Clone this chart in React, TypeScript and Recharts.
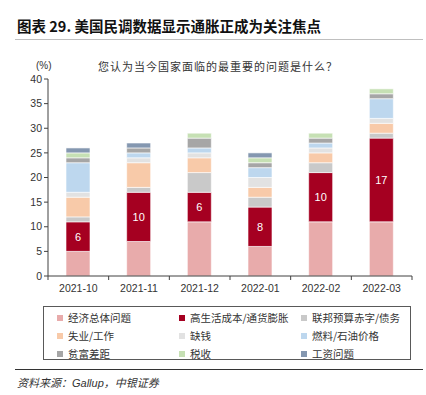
import { Bar, BarChart, LabelList, XAxis, YAxis } from "recharts";

const MONTHS = ["2021-10", "2021-11", "2021-12", "2022-01", "2022-02", "2022-03"];

const ECONOMY = [5, 7, 11, 6, 11, 11];
const COST_OF_LIVING = [6, 10, 6, 8, 10, 17];
const DEFICIT = [1, 1, 4, 2, 2, 1];
const JOBS = [4, 5, 3, 2, 2, 2];
const NO_MONEY = [1, 1, 1, 2, 1, 1];
const FUEL = [6, 1, 1, 2, 1, 4];
const INEQUALITY = [1, 1, 2, 1, 1, 1];
const TAXES = [1, 0, 1, 1, 1, 1];
const WAGES = [1, 1, 0, 1, 0, 0];

const SERIES = [
  { key: "economy", name: "经济总体问题", color: "#e8abab", values: ECONOMY },
  { key: "cost", name: "高生活成本/通货膨胀", color: "#a50021", values: COST_OF_LIVING },
  { key: "deficit", name: "联邦预算赤字/债务", color: "#c9c9c9", values: DEFICIT },
  { key: "jobs", name: "失业/工作", color: "#f8caa9", values: JOBS },
  { key: "money", name: "缺钱", color: "#e2e2e2", values: NO_MONEY },
  { key: "fuel", name: "燃料/石油价格", color: "#bdd7ee", values: FUEL },
  { key: "gap", name: "贫富差距", color: "#a6a6a6", values: INEQUALITY },
  { key: "tax", name: "税收", color: "#c6e0b4", values: TAXES },
  { key: "wage", name: "工资问题", color: "#8497b0", values: WAGES }
];

const Y_TICKS = [0, 5, 10, 15, 20, 25, 30, 35, 40];

const data = MONTHS.map((m, i) => {
  const row: Record<string, string | number> = { month: m };
  SERIES.forEach((s) => {
    row[s.key] = s.values[i];
  });
  return row;
});

const PLOT_LEFT = 48;
const PLOT_RIGHT = 412;
const BAND = (PLOT_RIGHT - PLOT_LEFT) / MONTHS.length;
const CJK = '"Noto Sans CJK SC", sans-serif';
const LATIN = '"Liberation Sans", Arial, sans-serif';

function MonthTick(props: any) {
  const { x, y, payload, index } = props;
  return (
    <g>
      <line x1={x - BAND / 2} y1={y - 8} x2={x - BAND / 2} y2={y - 4} stroke="#404040" />
      {index === MONTHS.length - 1 && (
        <line x1={x + BAND / 2} y1={y - 8} x2={x + BAND / 2} y2={y - 4} stroke="#404040" />
      )}
      <text x={x} y={y + 8} textAnchor="middle" fontSize={10.5} fill="#333" fontFamily={LATIN}>
        {payload.value}
      </text>
    </g>
  );
}

export default function App() {
  return (
    <div
      style={{
        position: "absolute",
        left: 0,
        top: 0,
        width: 426,
        height: 395,
        background: "#fff",
        overflow: "hidden"
      }}
    >
      <div
        style={{
          position: "absolute",
          left: 17,
          top: 15,
          fontFamily: CJK,
          fontWeight: 700,
          fontSize: 14.5,
          color: "#111",
          whiteSpace: "nowrap"
        }}
      >
        图表 29. 美国民调数据显示通胀正成为关注焦点
      </div>
      <div style={{ position: "absolute", left: 15, top: 39, width: 408, height: 1, background: "#bfbfbf" }} />
      <div style={{ position: "absolute", left: 36, top: 60, fontFamily: LATIN, fontSize: 10, color: "#333" }}>
        (%)
      </div>
      <div
        style={{
          position: "absolute",
          left: 98,
          top: 58,
          fontFamily: CJK,
          fontSize: 11,
          color: "#333",
          letterSpacing: 1,
          whiteSpace: "nowrap"
        }}
      >
        您认为当今国家面临的最重要的问题是什么？
      </div>

      <div style={{ position: "absolute", left: 0, top: 0 }}>
        <BarChart
          width={426}
          height={300}
          data={data}
          margin={{ top: 79, right: 426 - PLOT_RIGHT, bottom: 4, left: 0 }}
          barSize={24}
        >
          <XAxis
            dataKey="month"
            stroke="#404040"
            tickLine={false}
            height={20}
            interval={0}
            tick={<MonthTick />}
          />
          <YAxis
            domain={[0, 40]}
            ticks={Y_TICKS}
            width={PLOT_LEFT}
            stroke="#404040"
            tickSize={4}
            tick={{ fontSize: 10.5, fill: "#333", fontFamily: LATIN }}
            interval={0}
          />
          {SERIES.map((s) => (
            <Bar
              key={s.key}
              dataKey={s.key}
              name={s.name}
              stackId="a"
              fill={s.color}
              stroke="#ffffff"
              strokeWidth={0.6}
              isAnimationActive={false}
            >
              {s.key === "cost" && (
                <LabelList dataKey="cost" position="center" fill="#ffffff" fontSize={11} fontFamily={LATIN} />
              )}
            </Bar>
          ))}
        </BarChart>
      </div>

      <div
        style={{
          position: "absolute",
          left: 43,
          top: 306,
          width: 368,
          height: 54,
          border: "1px solid #595959",
          boxSizing: "border-box"
        }}
      >
        {SERIES.map((s, i) => (
          <div
            key={s.key}
            style={{
              position: "absolute",
              left: 13 + (i % 3) * 122,
              top: 3 + Math.floor(i / 3) * 18,
              display: "flex",
              alignItems: "center",
              fontFamily: CJK,
              fontSize: 10.5,
              color: "#333",
              whiteSpace: "nowrap"
            }}
          >
            <span style={{ display: "inline-block", width: 6, height: 6, background: s.color, marginRight: 5 }} />
            {s.name}
          </div>
        ))}
      </div>

      <div style={{ position: "absolute", left: 15, top: 369, width: 408, height: 1, background: "#333" }} />
      <div
        style={{
          position: "absolute",
          left: 17,
          top: 374,
          fontFamily: CJK,
          fontStyle: "italic",
          fontSize: 11,
          color: "#333",
          whiteSpace: "nowrap"
        }}
      >
        资料来源：<span style={{ fontFamily: LATIN }}>Gallup</span>，中银证券
      </div>
    </div>
  );
}
